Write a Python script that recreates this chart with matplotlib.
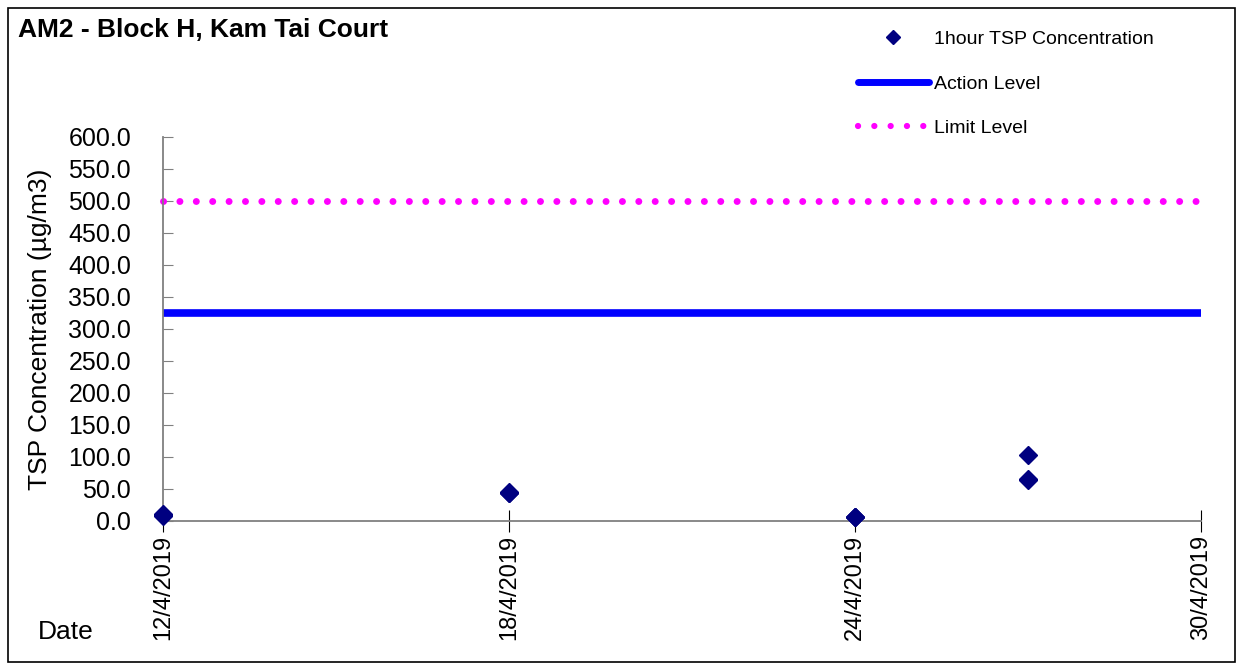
from datetime import datetime
import matplotlib
matplotlib.use("Agg")
import matplotlib.pyplot as plt
import matplotlib.dates as mdates
from matplotlib.lines import Line2D
from matplotlib.patches import Rectangle

plt.rcParams['font.family'] = ['Liberation Sans', 'DejaVu Sans']

# 1-hour TSP readings (ug/m3)
sample_dates = ["2019-04-12", "2019-04-12", "2019-04-12",
                "2019-04-18", "2019-04-18", "2019-04-18",
                "2019-04-24", "2019-04-24", "2019-04-24",
                "2019-04-27", "2019-04-27", "2019-04-27"]
tsp_values = [9.0, 11.0, 8.0,
              44.0, 43.0, 45.0,
              6.0, 7.0, 6.0,
              103.0, 65.0, 64.0]

action_level = 325.0
limit_level = 500.0
x_start, x_end = "2019-04-12", "2019-04-30"
tick_dates = ["2019-04-12", "2019-04-18", "2019-04-24", "2019-04-30"]
y_ticks = [0, 50, 100, 150, 200, 250, 300, 350, 400, 450, 500, 550, 600]

to_dt = lambda s: datetime.strptime(s, "%Y-%m-%d")
xs = [to_dt(d) for d in sample_dates]
x0, x1 = to_dt(x_start), to_dt(x_end)

fig = plt.figure(figsize=(12.37, 6.68), dpi=100)
ax = fig.add_axes([163 / 1237, 1 - 521 / 668, (1201 - 163) / 1237, (521 - 137) / 668])

# outer chart border
fig.patches.append(Rectangle((8 / 1237, 6 / 668), 1227 / 1237, 654 / 668,
                             transform=fig.transFigure, fill=False,
                             edgecolor='black', linewidth=1.2))

ax.plot([x0, x1], [limit_level, limit_level], color='#FF00FF', linewidth=5,
        linestyle=(0, (0.01, 2.35)), dash_capstyle='round', clip_on=False)
ax.plot([x0, x1], [action_level, action_level], color='#0000FF', linewidth=5.5,
        solid_capstyle='butt', clip_on=False)
ax.plot(xs, tsp_values, linestyle='none', marker='D', markersize=9.5,
        color='#000080', clip_on=False, zorder=5)

ax.set_xlim(x0, x1)
ax.set_ylim(0, 600)
ax.set_yticks(y_ticks)
ax.set_yticklabels([f"{v:.1f}" for v in y_ticks], fontsize=18)
ax.set_xticks([to_dt(d) for d in tick_dates])
ax.xaxis.set_major_formatter(mdates.DateFormatter('%d/%m/%Y'))
ax.set_xticklabels([f"{to_dt(d).day}/{to_dt(d).month}/{to_dt(d).year}" for d in tick_dates],
                   rotation=90, fontsize=17)
ax.tick_params(axis='y', direction='in', length=7, color='#808080', pad=23)
ax.tick_params(axis='x', direction='inout', length=16, color='black', pad=2)

for side in ['top', 'right']:
    ax.spines[side].set_visible(False)
for side in ['left', 'bottom']:
    ax.spines[side].set_color('#808080')
    ax.spines[side].set_linewidth(1.3)

ax.set_ylabel('TSP Concentration (µg/m3)', fontsize=19, labelpad=12)
fig.text(38 / 1237, 1 - 632 / 668, 'Date', fontsize=19, va='center', ha='left')
fig.text(18 / 1237, 1 - 30 / 668, 'AM2 - Block H, Kam Tai Court', fontsize=19,
         fontweight='bold', va='center', ha='left')

handles = [
    Line2D([], [], linestyle='none', marker='D', markersize=7, color='#000080'),
    Line2D([], [], color='#0000FF', linewidth=5, solid_capstyle='round'),
    Line2D([], [], color='#FF00FF', linewidth=4.5, linestyle=(0, (0.01, 2.6)),
           dash_capstyle='round'),
]
labels = ['1hour TSP Concentration', 'Action Level', 'Limit Level']
fig.legend(handles, labels, loc='upper left', bbox_to_anchor=(840 / 1237, 1 - 13 / 668),
           frameon=False, fontsize=14, handlelength=3.7, handletextpad=0.25,
           labelspacing=1.38)

fig.savefig('out.png', dpi=100)
